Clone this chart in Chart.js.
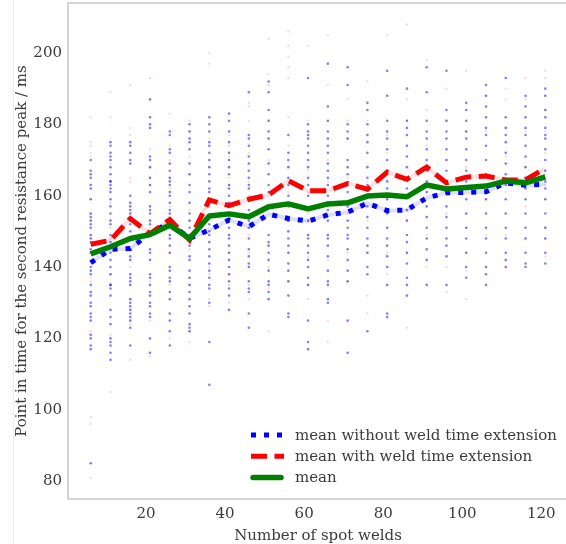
<!DOCTYPE html>
<html>
<head>
<meta charset="utf-8">
<script src="https://cdn.jsdelivr.net/npm/chart.js@4.4.1/dist/chart.umd.min.js"></script>
<style>
  html, body { margin: 0; padding: 0; background: #fff; overflow: hidden; }
  #grafica { display: block; }
</style>
</head>
<body>
<canvas id="grafica" width="568" height="544"></canvas>
<script>
var colorAzul = "#0000ff";
var colorRojo = "#ff0000";
var colorVerde = "#008000";
var colorTexto = "#3b3b3b";
var colorMarco = "#d4d4d4";
var fuente = "'DejaVu Serif', serif";

// number of spot welds for each measuring point
var puntos = [6, 11, 16, 21, 26, 31, 36, 41, 46, 51, 56, 61, 66, 71, 76, 81, 86, 91, 96, 101, 106, 111, 116, 121];

// means in ms
var mediaSin = [141.2, 145.0, 145.2, 149.5, 152.4, 148.0, 150.4, 153.2, 151.3, 154.8, 153.6, 152.9,
                154.6, 155.4, 157.9, 155.8, 156.0, 159.4, 160.8, 160.9, 161.1, 163.6, 162.9, 163.2];
var mediaCon = [146.4, 147.5, 153.6, 149.3, 153.3, 147.6, 158.8, 157.2, 159.0, 160.2, 164.2, 161.4,
                161.4, 163.4, 161.8, 166.6, 164.6, 168.0, 163.6, 165.2, 165.5, 164.4, 164.4, 167.7];
var mediaTotal = [143.7, 145.7, 148.0, 149.1, 151.7, 148.0, 154.3, 154.9, 154.1, 156.9, 157.7, 156.3,
                  157.7, 158.0, 159.9, 160.2, 159.7, 163.0, 161.9, 162.3, 162.7, 164.1, 163.6, 165.3];

// single welds without weld time extension, one list per measuring point
var soldSin = [
  [170,167,166,165,163,162,159,155,154,153,152,151,149,148,147,145,144,140,139,138,135,133,132,130,129,127,126,125,121,120,118,117,85],
  [175,174,172,171,170,168,166,164,164,163,162,161,159,157,155,153,152,149,147,144,142,140,138,135,135,134,132,128,126,124,120,119,118,116,114],
  [175,174,172,170,169,160,158,157,156,155,153,152,150,148,145,143,142,138,137,136,135,131,130,129,128,127,126,125,123,118],
  [187,182,180,179,171,170,168,165,163,161,157,156,155,153,152,149,145,144,142,138,137,135,133,132,130,129,127,126,120,116],
  [178,177,173,172,169,167,165,164,163,161,160,158,156,155,153,149,148,146,144,140,139,137,136,133,131,127,125,122,118],
  [180,178,176,175,173,169,166,163,161,158,155,153,151,149,148,146,143,142,139,137,135,133,131,129,127,124,123,122],
  [182,180,178,175,174,172,170,168,166,164,162,161,152,150,149,147,145,143,141,139,137,135,134,130,119,107],
  [183,181,178,175,172,170,168,166,163,162,160,158,151,149,148,146,144,142,140,138,136,134,132,128],
  [189,177,176,174,171,169,167,165,163,162,159,156,153,151,148,145,143,141,140,136,134,133,127,123],
  [192,189,184,181,178,176,173,169,166,163,161,157,149,147,146,144,142,139,136,135,133,131],
  [177,172,170,168,165,163,160,157,153,150,148,146,144,141,139,136,132,127,126],
  [193,180,178,177,176,174,172,170,168,165,163,160,153,149,148,146,144,142,140,137,135,125,119,117],
  [197,185,181,178,176,174,172,169,167,165,163,160,156,153,149,148,146,143,139,136,135,131,130],
  [196,191,180,178,176,170,168,166,163,161,157,153,151,149,148,145,142,139,136,125,116],
  [186,184,180,177,175,172,168,165,163,160,157,154,151,148,146,144,140,138,122],
  [195,188,181,178,176,173,170,167,164,162,159,155,151,148,146,143,140,135,127,126],
  [190,181,179,177,174,171,168,165,162,160,156,153,149,147,144,141,137,135,132],
  [196,189,181,178,176,173,170,167,164,161,157,154,151,148,145,142,135],
  [195,184,181,178,176,173,170,167,164,161,157,154,151,148,146,143,135],
  [186,184,181,178,176,173,170,167,164,159,155,151,148,144,140,137],
  [191,188,185,182,179,177,174,170,166,163,159,155,151,148,144,140,138,135],
  [193,182,179,177,175,172,169,166,163,159,155,151,148,144,142,140],
  [188,185,182,179,177,174,171,168,165,162,159,155,151,148,144,141,140],
  [190,188,184,182,179,177,176,173,170,167,164,162,159,155,151,148,144,141]
];

// single welds with weld time extension
var soldCon = [
  [182,175,174,172,171,159,155,153,149,148,137,136,122,121,98,96,81],
  [189,182,169,158,151,148,138,135,121,105],
  [191,179,177,165,164,155,153,140,135,125,124,114],
  [193,173,168,165,163,151,149,136,125,115],
  [183,174,170,165,162,157,149,144,135,120],
  [181,178,171,166,156,153,145,137,135,122,119],
  [200,197,176,168,161,157,140,138,131,129],
  [177,174,171,165,163,149,144,138,135,130],
  [186,185,181,172,164,160,149,144,135,131],
  [204,194,191,181,176,170,157,146,140,134,122],
  [206,202,199,196,193,182,174,168,161,153,144,136],
  [202,181,167,161,155,149,143,135,131],
  [205,191,181,170,164,157,149,142,125,119],
  [187,181,176,165,155,144,136],
  [192,181,164,153,144,132,127],
  [205,188,177,172,166,159,151,144,138],
  [208,187,181,174,165,153,144,123],
  [198,184,174,168,161,149,140],
  [190,181,170,163,155,140,133],
  [195,178,168,151,144,139,131],
  [188,178,166,159,149,140],
  [190,187,179,171,161,149,140],
  [193,187,178,168,157,148],
  [195,193,188,184,178,172,166,163,159,151,148,143]
];

var ticksX = [20, 40, 60, 80, 100, 120];
var ticksY = [80, 100, 120, 140, 160, 180, 200];

function nube(columnas) {
  var lista = [];
  columnas.forEach(function (col, i) {
    col.forEach(function (v) { lista.push({ x: puntos[i], y: v }); });
  });
  return lista;
}

function linea(valores) {
  return valores.map(function (v, i) { return { x: puntos[i], y: v }; });
}

var datosGrafica = {
  datasets: [
    {
      label: "mean without weld time extension",
      data: linea(mediaSin),
      showLine: true,
      borderColor: colorAzul,
      borderWidth: 5,
      borderDash: [5, 8],
      borderCapStyle: "butt",
      pointRadius: 0,
      order: 3,
      enLeyenda: true
    },
    {
      label: "mean with weld time extension",
      data: linea(mediaCon),
      showLine: true,
      borderColor: colorRojo,
      borderWidth: 5,
      borderDash: [16, 7.5],
      borderCapStyle: "butt",
      pointRadius: 0,
      order: 2,
      enLeyenda: true
    },
    {
      label: "mean",
      data: linea(mediaTotal),
      showLine: true,
      borderColor: colorVerde,
      borderWidth: 5.5,
      borderJoinStyle: "round",
      pointRadius: 0,
      order: 1,
      enLeyenda: true
    },
    {
      // soft trace under the dotted and dashed means
      label: "traza sin",
      data: linea(mediaSin),
      showLine: true,
      borderColor: "rgba(0, 0, 255, 0.13)",
      borderWidth: 4,
      pointRadius: 0,
      order: 5
    },
    {
      label: "traza con",
      data: linea(mediaCon),
      showLine: true,
      borderColor: "rgba(255, 0, 0, 0.12)",
      borderWidth: 4,
      pointRadius: 0,
      order: 5
    },
    {
      label: "soldaduras sin",
      data: nube(soldSin),
      pointRadius: 1.3,
      pointBorderWidth: 0,
      pointBackgroundColor: "rgba(0, 0, 255, 0.5)",
      order: 8
    },
    {
      label: "soldaduras con",
      data: nube(soldCon),
      pointRadius: 1.2,
      pointBorderWidth: 0,
      pointBackgroundColor: "rgba(255, 0, 0, 0.16)",
      order: 7
    }
  ]
};

// light frame: top, left and bottom edges of the plot area
var marco = {
  id: "marco",
  beforeDatasetsDraw: function (chart) {
    var ctx = chart.ctx, a = chart.chartArea;
    ctx.save();
    ctx.strokeStyle = colorMarco;
    ctx.lineWidth = 2;
    ctx.beginPath();
    ctx.moveTo(chart.width, a.top);
    ctx.lineTo(a.left, a.top);
    ctx.lineTo(a.left, a.bottom);
    ctx.lineTo(chart.width, a.bottom);
    ctx.stroke();
    ctx.strokeStyle = "#ececec";
    ctx.lineWidth = 1;
    ctx.beginPath();
    ctx.moveTo(13.5, 0);
    ctx.lineTo(13.5, chart.height);
    ctx.stroke();
    ctx.restore();
  }
};

// legend inside the plot, lower right
var leyenda = {
  id: "leyenda",
  afterDraw: function (chart) {
    var ctx = chart.ctx;
    var filas = chart.data.datasets.filter(function (d) { return d.enLeyenda; });
    ctx.save();
    ctx.font = "15px " + fuente;
    ctx.textBaseline = "middle";
    ctx.fillStyle = colorTexto;
    filas.forEach(function (d, i) {
      var y = 435 + i * 21.3;
      ctx.save();
      ctx.strokeStyle = d.borderColor;
      ctx.lineWidth = d.borderWidth;
      ctx.setLineDash(d.borderDash || []);
      ctx.lineCap = d.borderDash ? "butt" : "round";
      ctx.beginPath();
      ctx.moveTo(d.borderDash ? 251 : 253, y);
      ctx.lineTo(d.borderDash ? 284 : 281, y);
      ctx.stroke();
      ctx.restore();
      ctx.fillText(d.label, 295, y + 1);
    });
    ctx.restore();
  }
};

var configuracion = {
  type: "scatter",
  data: datosGrafica,
  options: {
    responsive: false,
    animation: false,
    layout: { autoPadding: false, padding: { top: 3, right: 0, bottom: 0, left: 0 } },
    plugins: {
      legend: { display: false },
      tooltip: { enabled: false }
    },
    scales: {
      x: {
        type: "linear",
        min: 0.25,
        max: 126.75,
        grid: { display: false, drawTicks: false },
        border: { display: false },
        afterBuildTicks: function (s) { s.ticks = ticksX.map(function (v) { return { value: v }; }); },
        afterFit: function (s) { s.height = 45; s.paddingLeft = 0; s.paddingRight = 0; },
        ticks: { padding: 6, color: colorTexto, font: { family: fuente, size: 15 } },
        title: {
          display: true,
          text: "Number of spot welds",
          color: colorTexto,
          padding: { top: 0, bottom: -1.5 },
          font: { family: fuente, size: 15 }
        }
      },
      y: {
        min: 75,
        max: 214,
        grid: { display: false, drawTicks: false },
        border: { display: false },
        afterBuildTicks: function (s) { s.ticks = ticksY.map(function (v) { return { value: v }; }); },
        afterFit: function (s) { s.width = 68; s.paddingTop = 0; s.paddingBottom = 0; },
        ticks: { padding: 6, color: colorTexto, font: { family: fuente, size: 15 } },
        title: {
          display: true,
          text: "Point in time for the second resistance peak / ms",
          color: colorTexto,
          padding: { top: 13, bottom: 0 },
          font: { family: fuente, size: 15 }
        }
      }
    }
  },
  plugins: [marco, leyenda]
};

var graficaSoldaduras = new Chart(document.getElementById("grafica"), configuracion);
</script>
</body>
</html>
